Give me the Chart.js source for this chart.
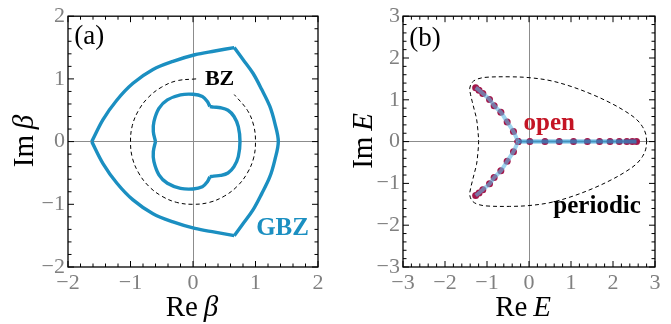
<!DOCTYPE html>
<html>
<head>
<meta charset="utf-8">
<script src="https://cdn.jsdelivr.net/npm/chart.js@4.4.1/dist/chart.umd.min.js"></script>
<style>
  html, body { margin: 0; padding: 0; background: #fff; }
  #wrap { display: flex; width: 671px; height: 324px; }
  canvas { display: block; }
</style>
</head>
<body>
<div id="wrap">
  <canvas id="chartA" width="335" height="324"></canvas>
  <canvas id="chartB" width="336" height="324"></canvas>
</div>
<script>
// ---- data ----

// (a) unit circle (BZ), dashed, with a gap behind the label
const bzRe = [0.05, -0.26, -0.50, -0.71, -0.87, -0.97, -1.00, -0.97, -0.87, -0.71, -0.50, -0.26, 0.00, 0.26, 0.50, 0.71, 0.87, 0.97, 1.00, 0.97, 0.87, 0.66];
const bzIm = [1.00, 0.97, 0.87, 0.71, 0.50, 0.26, 0.00, -0.26, -0.50, -0.71, -0.87, -0.97, -1.00, -0.97, -0.87, -0.71, -0.50, -0.26, 0.00, 0.26, 0.50, 0.75];

// (a) GBZ outer loop, three pieces (cusp and corners are sharp)
const gbzUpperRe = [-1.62, -1.44, -1.22, -0.96, -0.64, -0.32, 0.03, 0.35, 0.66];
const gbzUpperIm = [0.00, 0.35, 0.66, 0.93, 1.15, 1.28, 1.385, 1.445, 1.50];
const gbzRightRe = [0.66, 0.80, 0.96, 1.10, 1.23, 1.31, 1.365, 1.31, 1.23, 1.10, 0.96, 0.80, 0.66];
const gbzRightIm = [1.50, 1.31, 1.09, 0.83, 0.56, 0.29, 0.00, -0.29, -0.56, -0.83, -1.09, -1.31, -1.50];
const gbzLowerRe = [0.66, 0.35, 0.03, -0.32, -0.64, -0.96, -1.22, -1.44, -1.62];
const gbzLowerIm = [-1.50, -1.445, -1.385, -1.28, -1.15, -0.93, -0.66, -0.35, 0.00];

// (a) GBZ inner loop, three lobes between the notches
const innerTopRe = [-0.60, -0.635, -0.625, -0.545, -0.41, -0.20, 0.00, 0.15, 0.23, 0.27];
const innerTopIm = [0.00, 0.16, 0.32, 0.53, 0.665, 0.745, 0.755, 0.72, 0.64, 0.56];
const innerRightRe = [0.27, 0.33, 0.44, 0.56, 0.656, 0.725, 0.752, 0.725, 0.656, 0.56, 0.44, 0.33, 0.27];
const innerRightIm = [0.56, 0.55, 0.54, 0.50, 0.40, 0.24, 0.00, -0.24, -0.40, -0.50, -0.54, -0.55, -0.56];
const innerBotRe = [0.27, 0.23, 0.15, 0.00, -0.20, -0.41, -0.545, -0.625, -0.635, -0.60];
const innerBotIm = [-0.56, -0.64, -0.72, -0.755, -0.745, -0.665, -0.53, -0.32, -0.16, 0.00];

// (b) periodic spectrum, dashed loop
const pbcRe = [2.80, 2.78, 2.70, 2.55, 2.30, 1.95, 1.50, 1.00, 0.50, 0.00, -0.46, -1.00, -1.22, -1.35, -1.41, -1.39, -1.35, -1.30, -1.25, -1.22, -1.20,
               -1.22, -1.25, -1.30, -1.35, -1.39, -1.41, -1.35, -1.22, -1.00, -0.46, 0.00, 0.50, 1.00, 1.50, 1.95, 2.30, 2.55, 2.70, 2.78, 2.80];
const pbcIm = [0.00, 0.18, 0.36, 0.54, 0.72, 0.92, 1.13, 1.32, 1.46, 1.53, 1.55, 1.54, 1.50, 1.42, 1.28, 1.12, 0.95, 0.75, 0.55, 0.30, 0.00,
               -0.30, -0.55, -0.75, -0.95, -1.12, -1.28, -1.42, -1.50, -1.54, -1.55, -1.53, -1.46, -1.32, -1.13, -0.92, -0.72, -0.54, -0.36, -0.18, 0.00];

// (b) open-chain eigenvalues
const obcUpRe = [-0.26, -0.37, -0.52, -0.67, -0.83, -0.94, -1.10, -1.19, -1.27];
const obcUpIm = [0.00, 0.24, 0.47, 0.70, 0.86, 1.01, 1.15, 1.23, 1.29];
const obcLowRe = [-0.26, -0.37, -0.52, -0.67, -0.83, -0.94, -1.10, -1.19, -1.27];
const obcLowIm = [0.00, -0.24, -0.47, -0.70, -0.86, -1.01, -1.15, -1.23, -1.29];
const obcRealRe = [-0.26, 0.02, 0.38, 0.72, 1.06, 1.39, 1.68, 1.93, 2.15, 2.33, 2.46, 2.56];
const obcRealIm = [0, 0, 0, 0, 0, 0, 0, 0, 0, 0, 0, 0];

// ---- styling ----
const SERIF = "'Liberation Serif', 'Times New Roman', serif";
const GBZ_BLUE = '#1b8fc1';
const tickFont = { family: SERIF, size: 22 };

function zip(re, im) {
    return re.map((x, i) => ({ x: x, y: im[i] }));
}

function fmt(v) {
    return v < 0 ? '\u2212' + Math.abs(v) : String(v);
}

function axes(lo, hi) {
    const grid = {
        color: c => (c.tick && c.tick.value === 0) ? '#8c8c8c' : 'rgba(0,0,0,0)',
        lineWidth: 1,
        drawTicks: false
    };
    return {
        x: {
            type: 'linear', min: lo, max: hi,
            afterFit: s => { s.height = 57; },
            ticks: { stepSize: 1, color: '#808080', font: tickFont, padding: 3, callback: fmt, maxRotation: 0, autoSkip: false },
            grid: grid,
            border: { display: false }
        },
        y: {
            type: 'linear', min: lo, max: hi,
            afterFit: s => { s.width = 68; },
            ticks: { stepSize: 1, color: '#808080', font: tickFont, padding: 3, callback: fmt, autoSkip: false },
            grid: grid,
            border: { display: false }
        }
    };
}

// frame with inward ticks on all four sides
const framePlugin = {
    id: 'frame',
    afterDatasetsDraw(chart) {
        const ctx = chart.ctx, a = chart.chartArea;
        const sx = chart.scales.x, sy = chart.scales.y;
        ctx.save();
        ctx.strokeStyle = '#000';
        ctx.lineWidth = 1.3;
        ctx.strokeRect(a.left, a.top, a.right - a.left, a.bottom - a.top);
        ctx.lineWidth = 1;
        const n = Math.round((sx.max - sx.min) * 5);
        ctx.beginPath();
        for (let i = 0; i <= n; i++) {
            const v = sx.min + i / 5;
            const len = (i % 5 === 0) ? 6 : 3.5;
            const px = sx.getPixelForValue(v);
            ctx.moveTo(px, a.bottom); ctx.lineTo(px, a.bottom - len);
            ctx.moveTo(px, a.top); ctx.lineTo(px, a.top + len);
            const py = sy.getPixelForValue(v);
            ctx.moveTo(a.left, py); ctx.lineTo(a.left + len, py);
            ctx.moveTo(a.right, py); ctx.lineTo(a.right - len, py);
        }
        ctx.stroke();
        ctx.restore();
    }
};

function drawParts(ctx, parts, size) {
    let w = 0;
    parts.forEach(p => {
        ctx.font = (p.it ? 'italic ' : '') + size + 'px ' + SERIF;
        p.w = ctx.measureText(p.t).width;
        w += p.w;
    });
    let x = -w / 2;
    parts.forEach(p => {
        ctx.font = (p.it ? 'italic ' : '') + size + 'px ' + SERIF;
        ctx.fillText(p.t, x, 0);
        x += p.w;
    });
}

// axis titles and in-plot labels
const textPlugin = {
    id: 'texts',
    afterDraw(chart, args, opts) {
        const ctx = chart.ctx;
        const sx = chart.scales.x, sy = chart.scales.y;
        ctx.save();
        ctx.fillStyle = '#000';
        ctx.textBaseline = 'alphabetic';
        ctx.textAlign = 'left';
        // x title
        ctx.save();
        ctx.translate(opts.xTitle.cx, opts.xTitle.base);
        drawParts(ctx, [{ t: 'Re\u2009' }, { t: opts.sym, it: true }], 29);
        ctx.restore();
        // y title
        ctx.save();
        ctx.translate(opts.yTitle.base, opts.yTitle.cy);
        ctx.rotate(-Math.PI / 2);
        drawParts(ctx, [{ t: 'Im\u2009' }, { t: opts.sym, it: true }], 29);
        ctx.restore();
        // labels
        opts.labels.forEach(l => {
            ctx.font = l.font;
            ctx.fillStyle = l.color;
            ctx.fillText(l.text, sx.getPixelForValue(l.x), sy.getPixelForValue(l.y));
        });
        ctx.restore();
    }
};

const baseOptions = {
    responsive: false,
    animation: false,
    events: [],
    devicePixelRatio: 1
};

function gbzSet(re, im) {
    return {
        data: zip(re, im), showLine: true, borderColor: GBZ_BLUE, borderWidth: 3.4,
        pointRadius: 0, tension: 0.35, fill: false
    };
}

// ---- panel (a) ----
new Chart(document.getElementById('chartA'), {
    type: 'scatter',
    data: {
        datasets: [
            { data: zip(bzRe, bzIm), showLine: true, borderColor: '#000', borderWidth: 1, borderDash: [4, 3],
              pointRadius: 0, tension: 0.38, fill: false },
            gbzSet(gbzUpperRe, gbzUpperIm),
            gbzSet(gbzRightRe, gbzRightIm),
            gbzSet(gbzLowerRe, gbzLowerIm),
            gbzSet(innerTopRe, innerTopIm),
            gbzSet(innerRightRe, innerRightIm),
            gbzSet(innerBotRe, innerBotIm)
        ]
    },
    options: Object.assign({}, baseOptions, {
        layout: { padding: { top: 16, right: 17, left: 0, bottom: 0 } },
        scales: axes(-2, 2),
        plugins: {
            legend: { display: false },
            tooltip: { enabled: false },
            texts: {
                sym: '\u03B2',
                xTitle: { cx: 192, base: 316 },
                yTitle: { cy: 141, base: 33 },
                labels: [
                    { text: '(a)', x: -1.90, y: 1.55, font: '27px ' + SERIF, color: '#000' },
                    { text: 'BZ', x: 0.19, y: 0.905, font: 'bold 22px ' + SERIF, color: '#000' },
                    { text: 'GBZ', x: 1.01, y: -1.49, font: 'bold 25px ' + SERIF, color: GBZ_BLUE }
                ]
            }
        }
    }),
    plugins: [framePlugin, textPlugin]
});

// ---- panel (b) ----
new Chart(document.getElementById('chartB'), {
    type: 'scatter',
    data: {
        datasets: [
            { data: zip(pbcRe, pbcIm), showLine: true, borderColor: '#000', borderWidth: 1, borderDash: [4, 3],
              pointRadius: 0, tension: 0.35, fill: false, order: 3 },
            { data: zip(obcUpRe, obcUpIm).concat(zip(obcLowRe, obcLowIm), zip(obcRealRe, obcRealIm)),
              showLine: false, pointRadius: 3.5, pointBackgroundColor: '#a3174a', pointBorderWidth: 0, order: 2 },
            { data: zip(obcUpRe, obcUpIm), showLine: true, borderColor: 'rgba(95,185,228,0.6)', borderWidth: 4,
              pointRadius: 0, tension: 0.3, fill: false, order: 1 },
            { data: zip(obcLowRe, obcLowIm), showLine: true, borderColor: 'rgba(95,185,228,0.6)', borderWidth: 4,
              pointRadius: 0, tension: 0.3, fill: false, order: 1 },
            { data: zip(obcRealRe, obcRealIm), showLine: true, borderColor: 'rgba(35,145,205,0.7)', borderWidth: 4,
              pointRadius: 0, tension: 0, fill: false, order: 1 }
        ]
    },
    options: Object.assign({}, baseOptions, {
        layout: { padding: { top: 16, right: 16, left: 0, bottom: 0 } },
        scales: axes(-3, 3),
        plugins: {
            legend: { display: false },
            tooltip: { enabled: false },
            texts: {
                sym: 'E',
                xTitle: { cx: 188, base: 316 },
                yTitle: { cy: 141, base: 37 },
                labels: [
                    { text: '(b)', x: -2.85, y: 2.28, font: '27px ' + SERIF, color: '#000' },
                    { text: 'open', x: -0.13, y: 0.28, font: 'bold 25px ' + SERIF, color: '#c41424' },
                    { text: 'periodic', x: 0.58, y: -1.71, font: 'bold 25px ' + SERIF, color: '#000' }
                ]
            }
        }
    }),
    plugins: [framePlugin, textPlugin]
});
</script>
</body>
</html>
